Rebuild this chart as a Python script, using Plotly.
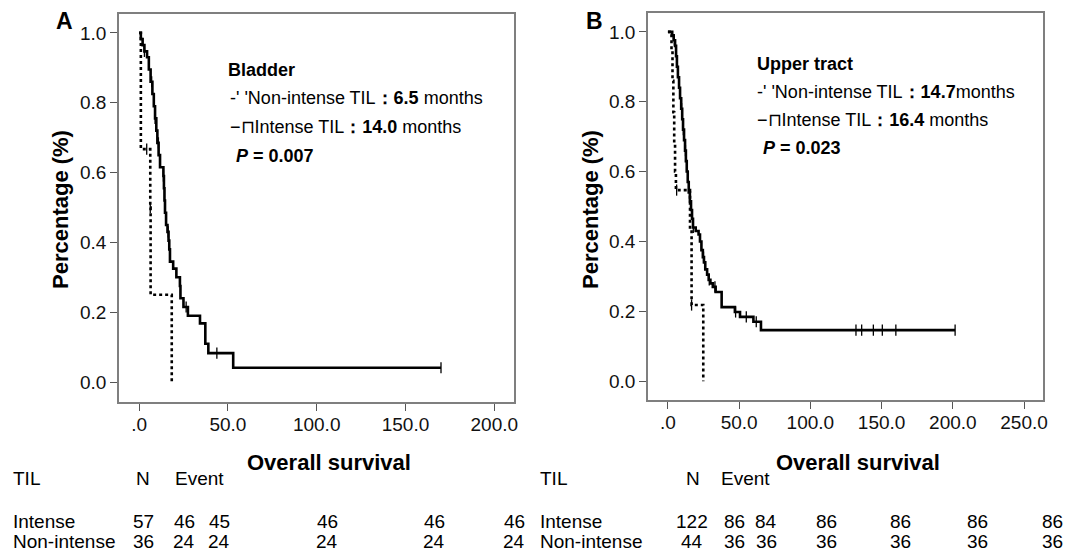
import plotly.graph_objects as go

# The page body has an 8px default margin: the figure starts at (8, 8), so it is
# drawn 8px smaller and reference pixel coordinates are shifted by 8px.
W, H = 1084, 554
OFF = 8
FW, FH = W - OFF, H - OFF

# ---------------- data ----------------
# Panel A: Bladder
a_int_t = [0, 1.0, 2.0, 3.0, 4.5, 5.5, 6.5, 7.5, 8.3, 9.0, 9.7, 10.3, 11.0, 11.8, 13.7, 14.0,
           14.3, 14.6, 15.2, 16.0, 16.6, 17.0, 17.4, 19.2, 21.0, 23.0, 23.3, 25.0, 27.5, 34.3,
           37.3, 39.0, 53.0, 170.0]
a_int_s = [1.0, 0.982, 0.965, 0.947, 0.93, 0.895, 0.86, 0.825, 0.79, 0.755, 0.72, 0.685, 0.65,
           0.615, 0.59, 0.555, 0.52, 0.485, 0.45, 0.43, 0.405, 0.38, 0.345, 0.325, 0.30, 0.275,
           0.24, 0.215, 0.19, 0.168, 0.11, 0.083, 0.041, 0.041]
a_int_cens = [3.0, 7.1, 9.0, 10.9, 13.7, 16.4, 26.5, 43.8, 170.0]
a_non_t = [0, 1.0, 6.3, 6.5, 18.4]
a_non_s = [1.0, 0.667, 0.5, 0.25, 0.0]
a_non_cens = [4.3, 6.3]

# Panel B: Upper tract
b_int_t = [0, 3.0, 4.0, 5.0, 5.7, 6.3, 7.0, 7.8, 8.5, 9.3, 10.0, 10.6, 11.3, 12.0, 12.6, 13.2,
           13.9, 14.6, 15.4, 16.2, 16.9, 17.6, 19.5, 21.5, 22.5, 23.5, 24.5, 25.3, 26.2, 27.5,
           28.6, 29.8, 31.5, 33.5, 37.7, 47.0, 50.6, 60.0, 65.3, 201.6]
b_int_s = [1.0, 0.99, 0.976, 0.96, 0.93, 0.90, 0.87, 0.84, 0.81, 0.78, 0.75, 0.72, 0.69, 0.66,
           0.63, 0.60, 0.57, 0.54, 0.515, 0.49, 0.465, 0.44, 0.43, 0.42, 0.40, 0.375, 0.355,
           0.34, 0.32, 0.305, 0.29, 0.28, 0.27, 0.255, 0.212, 0.198, 0.184, 0.17, 0.146, 0.146]
b_int_cens = [4.5, 9.6, 10.8, 12.3, 17.8, 25.0, 29.0, 33.0, 47.5, 55.0, 62.0, 132.0, 136.0,
              144.2, 150.5, 160.0, 201.6]
b_non_t = [0, 2.5, 3.2, 3.8, 4.4, 5.0, 5.6, 15.5, 16.6, 24.8]
b_non_s = [1.0, 0.95, 0.86, 0.77, 0.68, 0.60, 0.547, 0.44, 0.218, 0.0]
b_non_cens = [6.1, 16.6]

y_ticks = [0.0, 0.2, 0.4, 0.6, 0.8, 1.0]
y_ticklabels = ["0.0", "0.2", "0.4", "0.6", "0.8", "1.0"]
a_x_ticks = [0, 50, 100, 150, 200]
a_x_ticklabels = [".0", "50.0", "100.0", "150.0", "200.0"]
b_x_ticks = [0, 50, 100, 150, 200, 250]
b_x_ticklabels = [".0", "50.0", "100.0", "150.0", "200.0", "250.0"]

# table data
a_int_row = ["57", "46", "45", "46", "46", "46"]
a_non_row = ["36", "24", "24", "24", "24", "24"]
b_int_row = ["122", "86", "84", "86", "86", "86", "86"]
b_non_row = ["44", "36", "36", "36", "36", "36", "36"]

# ---------------- helpers ----------------
def step_at(ts, ss, t):
    v = ss[0]
    for ti, si in zip(ts, ss):
        if ti <= t:
            v = si
    return v

def px(x):
    return (x - OFF) / FW

def py(y):
    return 1 - (y - OFF) / FH

FONT = "Liberation Sans, Arial, sans-serif"
fig = go.Figure()

def add_panel(xa, ya, it, is_, ic, nt, ns, nc):
    fig.add_trace(go.Scatter(x=nt, y=ns, mode="lines", line=dict(color="black", width=2.6, dash="3px,3px", shape="hv"),
                             xaxis=xa, yaxis=ya, showlegend=False, hoverinfo="skip"))
    fig.add_trace(go.Scatter(x=it, y=is_, mode="lines", line=dict(color="black", width=2.6, shape="hv"),
                             xaxis=xa, yaxis=ya, showlegend=False, hoverinfo="skip"))
    fig.add_trace(go.Scatter(x=ic, y=[step_at(it, is_, t) for t in ic], mode="markers",
                             marker=dict(symbol="line-ns", size=8, line=dict(color="black", width=1.3)),
                             xaxis=xa, yaxis=ya, showlegend=False, hoverinfo="skip"))
    fig.add_trace(go.Scatter(x=nc, y=[step_at(nt, ns, t) for t in nc], mode="markers",
                             marker=dict(symbol="line-ns", size=8, line=dict(color="black", width=1.3)),
                             xaxis=xa, yaxis=ya, showlegend=False, hoverinfo="skip"))

add_panel("x", "y", a_int_t, a_int_s, a_int_cens, a_non_t, a_non_s, a_non_cens)
add_panel("x2", "y2", b_int_t, b_int_s, b_int_cens, b_non_t, b_non_s, b_non_cens)

axis_common = dict(showline=True, linecolor="#7f7f7f", linewidth=1.5, mirror=True, showgrid=False,
                   zeroline=False, ticks="outside", ticklen=7, tickcolor="#555", tickwidth=1,
                   tickfont=dict(family=FONT, size=19, color="#111"), automargin=False)

fig.update_layout(
    width=FW, height=FH, margin=dict(l=0, r=0, t=0, b=0),
    paper_bgcolor="white", plot_bgcolor="white",
    xaxis=dict(domain=[px(119), px(514)], range=[-11.3, 211.1], tickvals=a_x_ticks, ticktext=a_x_ticklabels,
               anchor="y", ticklabelstandoff=-3, **axis_common),
    yaxis=dict(domain=[py(402), py(14)], range=[-0.057, 1.054], tickvals=y_ticks, ticktext=y_ticklabels,
               anchor="x", **axis_common),
    xaxis2=dict(domain=[px(648), px(1043)], range=[-14.0, 263.3], tickvals=b_x_ticks, ticktext=b_x_ticklabels,
                anchor="y2", ticklabelstandoff=-3, **axis_common),
    yaxis2=dict(domain=[py(400), py(13)], range=[-0.054, 1.054], tickvals=y_ticks, ticktext=y_ticklabels,
                anchor="x2", **axis_common),
)

anns = []

def txt(x, y, s, size=17, anchor="left", angle=0, bold=False):
    if bold:
        s = "<b>" + s + "</b>"
    anns.append(dict(x=px(x), y=py(y), xref="paper", yref="paper", text=s, showarrow=False,
                     xanchor=anchor, yanchor="middle", textangle=angle, borderpad=0,
                     font=dict(family=FONT, size=size, color="black")))

# panel letters
txt(64, 21, "A", size=23, anchor="center", bold=True)
txt(594, 21, "B", size=23, anchor="center", bold=True)
# y titles
txt(60, 210, "Percentage (%)", size=22, anchor="center", angle=-90, bold=True)
txt(590, 210, "Percentage (%)", size=22, anchor="center", angle=-90, bold=True)
# x titles
txt(329, 462, "Overall survival", size=22, anchor="center", bold=True)
txt(858, 462, "Overall survival", size=22, anchor="center", bold=True)

# legends
LS = 18
txt(227, 70, "<b>Bladder</b>", size=LS)
txt(229, 98, "-' 'Non-intense TIL<b>：6.5</b> months", size=LS)
txt(229, 127, "\u2212\u2293Intense TIL<b>：14.0</b> months", size=LS)
txt(235, 156, "<b><i>P</i> = 0.007</b>", size=LS)

txt(756, 64, "<b>Upper tract</b>", size=LS)
txt(756, 92, "-' 'Non-intense TIL<b>：14.7</b>months", size=LS)
txt(756, 120, "\u2212\u2293Intense TIL<b>：16.4</b> months", size=LS)
txt(762, 148, "<b><i>P</i> = 0.023</b>", size=LS)

# tables
TS = 19
txt(12, 478, "TIL", size=TS)
txt(143, 478, "N", size=TS, anchor="center")
txt(199, 478, "Event", size=TS, anchor="center")
txt(12, 521, "Intense", size=TS)
txt(12, 541, "Non-intense", size=TS)
a_cols = [143, 184, 219, 327, 434, 514]
for c, v in zip(a_cols, a_int_row):
    txt(c, 521, v, size=TS, anchor="center")
for c, v in zip(a_cols, a_non_row):
    txt(c, 541, v, size=TS, anchor="center")

txt(539, 478, "TIL", size=TS)
txt(693, 478, "N", size=TS, anchor="center")
txt(745, 478, "Event", size=TS, anchor="center")
txt(539, 521, "Intense", size=TS)
txt(539, 541, "Non-intense", size=TS)
b_cols = [692, 734, 766, 826, 900, 977, 1052]
for c, v in zip(b_cols, b_int_row):
    txt(c, 521, v, size=TS, anchor="center")
for c, v in zip(b_cols, b_non_row):
    txt(c, 541, v, size=TS, anchor="center")

fig.update_layout(annotations=anns)
fig.write_html("out.html")
